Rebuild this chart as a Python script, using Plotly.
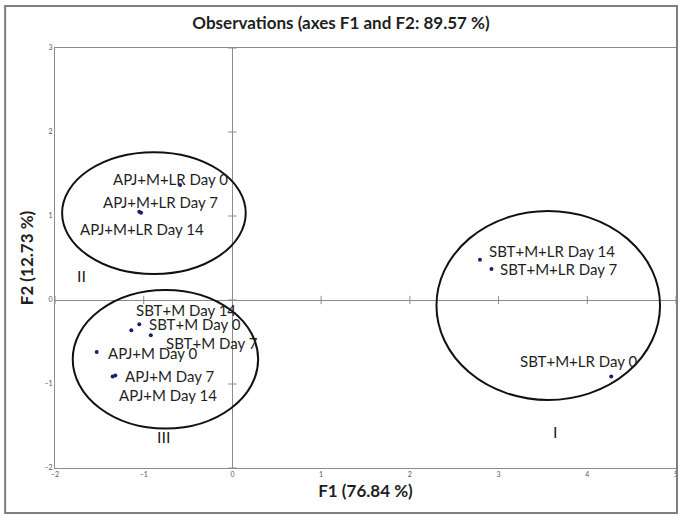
import plotly.graph_objects as go

# PCA observation scores (F1, F2)
labels = [
    "APJ+M+LR Day 0", "APJ+M+LR Day 7", "APJ+M+LR Day 14",
    "SBT+M Day 14", "SBT+M Day 0", "SBT+M Day 7",
    "APJ+M Day 0", "APJ+M Day 7", "APJ+M Day 14",
    "SBT+M+LR Day 14", "SBT+M+LR Day 7", "SBT+M+LR Day 0",
]
f1 = [-0.59, -1.03, -1.05, -1.14, -1.05, -0.92, -1.53, -1.32, -1.35, 2.79, 2.92, 4.27]
f2 = [1.37, 1.04, 1.05, -0.36, -0.29, -0.42, -0.62, -0.90, -0.91, 0.48, 0.37, -0.91]

# label offsets in pixels (left edge of text relative to the point)
label_dx = [-69, -40, -61, 3, 8, 13, 9, 8, 4, 7, 7, -93]
label_dy = [6, 11, -17, 20, 0, -8, -1, 0, -19, 9, 0, 15]

# group ellipses (data units) and their numerals
groups = ["II", "III", "I"]
ell_x0 = [-1.92, -1.80, 2.30]
ell_x1 = [0.15, 0.29, 4.82]
ell_y0 = [0.31, -1.53, -1.19]
ell_y1 = [1.76, 0.12, 1.06]
num_x = [-1.70, -0.78, 3.64]
num_y = [0.29, -1.63, -1.57]

x_ticks = [-2, -1, 0, 1, 2, 3, 4, 5]
y_ticks = [-2, -1, 0, 1, 2, 3]

font_family = "Lato, 'Open Sans', sans-serif"
grey = "#8c8c8c"
text_color = "#1f1f1f"

fig = go.Figure()

# tick crosses along the zero lines
fig.add_trace(go.Scatter(
    x=x_ticks, y=[0] * len(x_ticks), mode="markers",
    marker=dict(symbol="line-ns-open", size=6, color=grey, line=dict(color=grey, width=1)),
    hoverinfo="skip", showlegend=False,
))
fig.add_trace(go.Scatter(
    x=[0] * len(y_ticks), y=y_ticks, mode="markers",
    marker=dict(symbol="line-ew-open", size=6, color=grey, line=dict(color=grey, width=1)),
    hoverinfo="skip", showlegend=False,
))

fig.add_trace(go.Scatter(
    x=f1, y=f2, mode="markers", text=labels,
    marker=dict(color="#1d1d70", size=4),
    showlegend=False,
))

for name, lx, ly, dx, dy in zip(labels, f1, f2, label_dx, label_dy):
    fig.add_annotation(
        x=lx, y=ly, text=name, showarrow=False,
        xanchor="left", yanchor="middle", xshift=dx, yshift=dy,
        font=dict(family=font_family, size=15, color=text_color),
    )

for g, a0, a1, b0, b1, nx, ny in zip(groups, ell_x0, ell_x1, ell_y0, ell_y1, num_x, num_y):
    fig.add_shape(type="circle", xref="x", yref="y", x0=a0, x1=a1, y0=b0, y1=b1,
                  line=dict(color="#111111", width=2))
    fig.add_annotation(x=nx, y=ny, text=g, showarrow=False,
                       font=dict(family=font_family, size=16, color=text_color))

# outer chart frame
fig.add_shape(type="rect", xref="paper", yref="paper",
              x0=-0.0803, x1=1.0016, y0=-0.107, y1=1.1,
              line=dict(color="#7f7f7f", width=2))

axis_common = dict(
    showgrid=False, zeroline=True, zerolinecolor=grey, zerolinewidth=1,
    showline=True, mirror=True, linecolor=grey, linewidth=1,
    ticks="", tickfont=dict(family=font_family, size=7, color="#595959"),
    title_font=dict(family=font_family, size=17, color=text_color),
)

fig.update_layout(
    width=682, height=520,
    margin=dict(l=55, r=4, t=48, b=52),
    paper_bgcolor="white", plot_bgcolor="white",
    title=dict(text="<b>Observations (axes F1 and F2: 89.57 %)</b>",
               x=0.5, xanchor="center", y=0.955, yanchor="middle",
               font=dict(family=font_family, size=17, color=text_color)),
    xaxis=dict(range=[-2, 5], tickvals=x_ticks, title=dict(text="<b>F1 (76.84 %)</b>", standoff=7),
               **axis_common),
    yaxis=dict(range=[-2, 3], tickvals=y_ticks, title=dict(text="<b>F2 (12.73 %)</b>", standoff=6),
               **axis_common),
)

fig.write_html("out.html")
